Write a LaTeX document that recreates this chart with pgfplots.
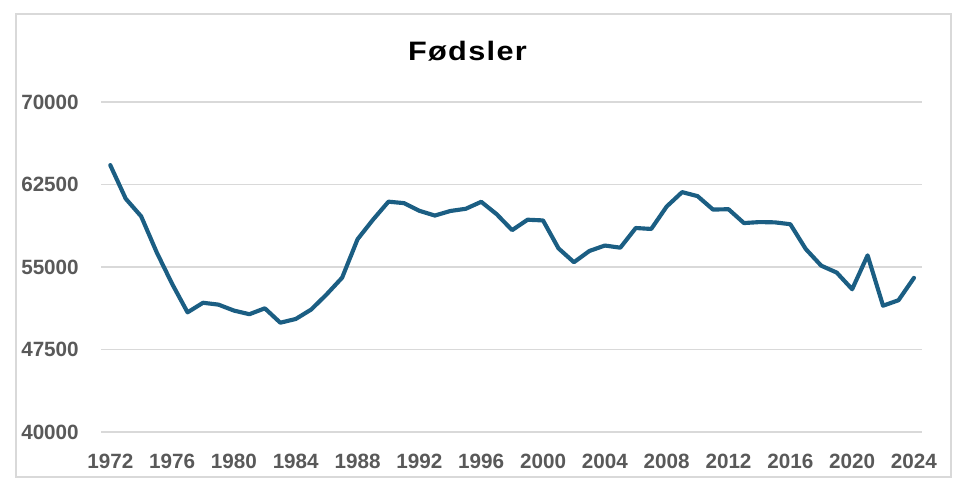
\documentclass[border=0pt]{standalone}
\usepackage{pgfplots}
\pgfplotsset{compat=1.18}
\usepackage{fontspec}
\setmainfont{Liberation Sans}
\newfontfamily\titlefont[FakeStretch=1.15, LetterSpace=5]{Liberation Sans}
\definecolor{linecol}{HTML}{1B5E83}
\definecolor{gridcol}{HTML}{D9D9D9}
\definecolor{tickcol}{HTML}{595959}
\definecolor{framecol}{HTML}{D9D9D9}
\begin{document}
\begin{tikzpicture}[x=1pt,y=1pt]
\useasboundingbox (0,0) rectangle (720,360);
\draw[framecol, line width=0.8pt] (12,2.25) rectangle (713.25,349.5);
\node[anchor=base, font=\titlefont\fontsize{20}{24}\selectfont\bfseries] at (350.6,315) {Fødsler};
\begin{axis}[
  at={(75.75pt,36pt)}, anchor=south west,
  scale only axis, width=615.75pt, height=247.5pt,
  xmin=1971.40, xmax=2024.52, ymin=40000, ymax=70000,
  axis line style={draw=none},
  major tick length=0pt,
  xtick={1972,1976,...,2024},
  ytick={40000,47500,55000,62500,70000},
  scaled y ticks=false,
  ymajorgrids, grid style={gridcol, line width=1.1pt},
  /pgf/number format/assume math mode=true,
  /pgf/number format/1000 sep={},
  /pgf/number format/fixed,
  tick label style={font=\fontsize{15.5}{17}\selectfont\bfseries, text=tickcol, inner sep=0pt},
  xticklabel style={anchor=base, yshift=-27.2pt},
  yticklabel style={anchor=east, xshift=-16.5pt},
  clip=false,
]
\addplot[linecol, line width=3.1pt, line join=round, line cap=round] coordinates {
(1972,64260) (1973,61208) (1974,59603) (1975,56345) (1976,53474) (1977,50877)
(1978,51749) (1979,51580) (1980,51039) (1981,50708) (1982,51245) (1983,49937)
(1984,50274) (1985,51134) (1986,52514) (1987,54027) (1988,57526) (1989,59303)
(1990,60939) (1991,60808) (1992,60109) (1993,59678) (1994,60092) (1995,60292)
(1996,60927) (1997,59801) (1998,58352) (1999,59298) (2000,59234) (2001,56696)
(2002,55434) (2003,56458) (2004,56951) (2005,56756) (2006,58545) (2007,58459)
(2008,60497) (2009,61807) (2010,61442) (2011,60220) (2012,60255) (2013,58995)
(2014,59084) (2015,59059) (2016,58890) (2017,56633) (2018,55120) (2019,54495)
(2020,52979) (2021,56060) (2022,51480) (2023,51980) (2024,54013)
};
\end{axis}
\end{tikzpicture}
\end{document}
